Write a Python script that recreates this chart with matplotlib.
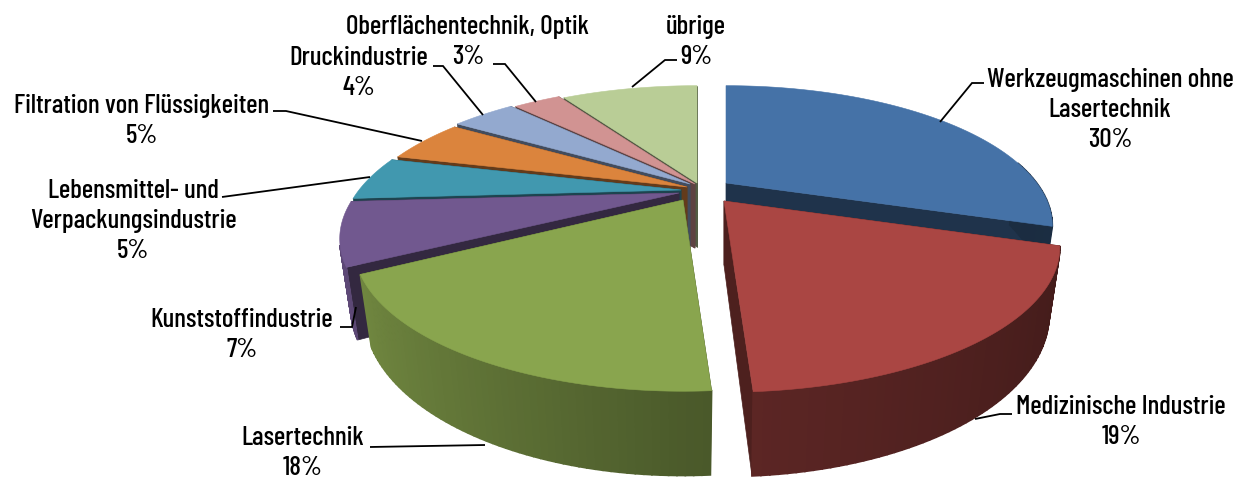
import numpy as np
import matplotlib
matplotlib.use("Agg")
import matplotlib.pyplot as plt
from matplotlib.patches import Polygon
from matplotlib.colors import to_rgb

labels = ["Werkzeugmaschinen ohne\nLasertechnik", "Medizinische Industrie", "Lasertechnik",
          "Kunststoffindustrie", "Lebensmittel- und\nVerpackungsindustrie",
          "Filtration von Flüssigkeiten", "Druckindustrie", "Oberflächentechnik, Optik", "übrige"]
values = [30, 19, 18, 7, 5, 5, 4, 3, 9]
colors = ["#4572A7", "#AA4643", "#89A54E", "#71588F", "#4198AF", "#DB843D", "#93A9CF", "#D19392", "#B9CD96"]

# per slice offset of the apex (the pie is exploded unevenly) and size
shifts = [(33, -4), (31, 14), (-10, 13), (-14, 6), (-12, 3), (-6, 0), (-3, -3), (2, -3), (4, -4)]
x_scales = [0.965, 0.99, 0.97, 1, 1, 1, 1, 1, 0.97]
y_scales = [0.97, 1, 1, 1, 1, 1, 1, 1, 0.97]
# back to front
draw_order = [8, 7, 6, 5, 4, 3, 2, 0, 1]

# perspective of the pie
CX, CY = 693, 187
A, B, K = 322, 131, 0.315
DEPTH, SHRINK = 66, 0.03

text_pos = [(1110, 80), (1121, 407), (303, 438), (242, 320), (133, 191), (142, 106), (359, 58), (468, 27), (696, 27)]
leaders = [
    [(940, 122), (972, 83), (984, 83)],
    [(975, 419), (1000, 414), (1012, 414)],
    [(370, 447), (485, 445)],
    [(340, 327), (352, 327), (356, 307)],
    [(222, 197), (370, 177)],
    [(273, 111), (286, 111), (422, 141)],
    [(433, 66), (443, 66), (483, 115)],
    [(493, 64), (505, 64), (536, 102)],
    [(632, 87), (665, 60), (677, 60)],
]

FONT = ["Barlow Condensed", "Fira Sans Condensed", "Liberation Sans Narrow", "Liberation Sans"]


def project(theta, r, bottom, i):
    x = np.sin(theta) * r * x_scales[i]
    y = -np.cos(theta) * r * y_scales[i]
    w = 1 - K * y
    dx, dy = shifts[i]
    if bottom:
        return dx + CX + A * x / (w + SHRINK), dy + CY + (B * y + DEPTH) / (w + SHRINK)
    return dx + CX + A * x / w, dy + CY + B * y / w


def shade(color, f):
    return tuple(c * f for c in to_rgb(color))


fig = plt.figure(figsize=(12.43, 4.8), dpi=100)
ax = fig.add_axes([0, 0, 1, 1])
ax.set_xlim(0, 1243)
ax.set_ylim(480, 0)
ax.axis("off")

edges = np.cumsum([0] + values) / sum(values) * 2 * np.pi
for i in draw_order:
    t0, t1 = edges[i], edges[i + 1]
    col = colors[i]
    ts = np.linspace(t0, t1, 60)

    # the two radial faces
    for t in (t0, t1):
        face = [project(t, 0, 0, i), project(t, 1, 0, i), project(t, 1, 1, i), project(t, 0, 1, i)]
        ax.add_patch(Polygon(face, fc=shade(col, 0.45), ec=shade(col, 0.45), lw=0.5))

    # outer wall, shaded piece by piece from left to right
    for a, b in zip(ts[:-1], ts[1:]):
        m = (a + b) / 2
        x = np.sin(m)
        f = 0.55 - 0.3 * x if x < 0 else 0.55 - 0.16 * x
        if (x < 0 and np.cos(m) > -0.35) or (x >= 0 and np.cos(m) > 0.15):
            continue
        wall = [project(a, 1, 0, i), project(b, 1, 0, i), project(b, 1, 1, i), project(a, 1, 1, i)]
        ax.add_patch(Polygon(wall, fc=shade(col, f), ec=shade(col, f), lw=1.2))

    top = [project(0, 0, 0, i)] + [project(t, 1, 0, i) for t in ts]
    ax.add_patch(Polygon(top, fc=col, ec=col, lw=0.4))

for i, name in enumerate(labels):
    x, y = text_pos[i]
    rows = name.split("\n") + ["%d%%" % values[i]]
    for j, row in enumerate(rows):
        ax.text(x, y + j * 30, row, ha="center", va="center", fontsize=19.5, family=FONT,
                fontweight=500, color="black")
    xs, ys = zip(*leaders[i])
    ax.plot(xs, ys, color="black", lw=1.3, solid_capstyle="butt", solid_joinstyle="miter")

fig.savefig("out.png", dpi=100)
